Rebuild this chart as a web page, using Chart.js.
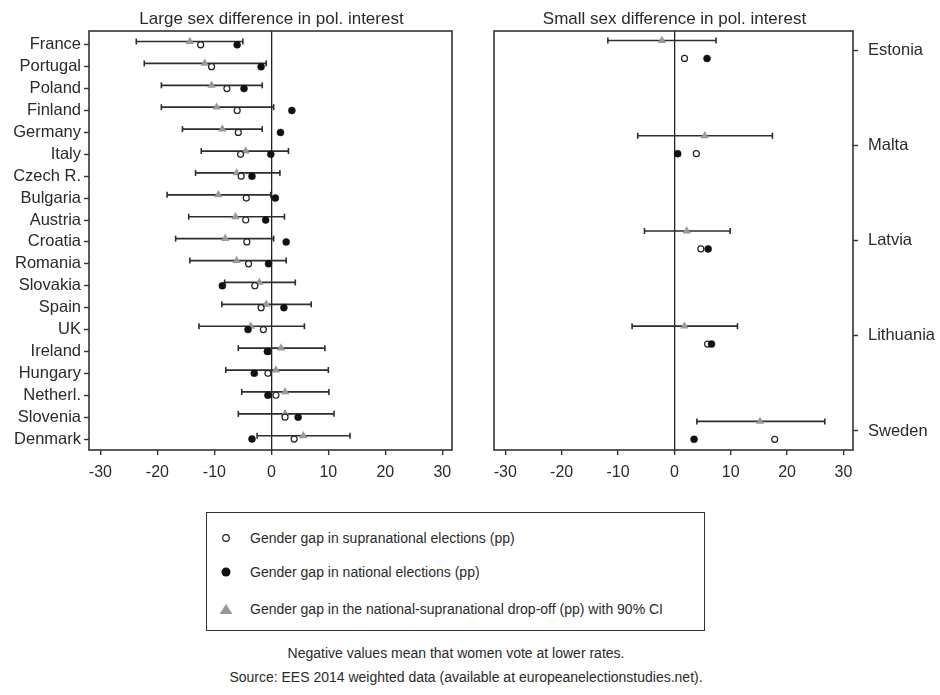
<!DOCTYPE html>
<html>
<head>
<meta charset="utf-8">
<script src="https://cdn.jsdelivr.net/npm/chart.js@4.4.0/dist/chart.umd.min.js"></script>
<style>
  body { margin: 0; background: #fff; }
  #wrap { position: relative; width: 940px; height: 695px; font-family: "Liberation Sans", Arial, sans-serif; color: #2a2a2a; }
  .panel { position: absolute; top: 0; width: 470px; height: 490px; }
  #legend { position: absolute; left: 206px; top: 512px; width: 497px; height: 117px; border: 1.5px solid #333; }
  .item { position: absolute; left: 0; font-size: 14px; line-height: 16px; }
  .item svg { position: absolute; left: 12px; top: 1px; }
  .item span { position: absolute; left: 43px; top: 0; white-space: nowrap; }
  .note { position: absolute; font-size: 14px; white-space: nowrap; transform: translateX(-50%); }
</style>
</head>
<body>
<div id="wrap">
  <div class="panel" style="left:0"><canvas id="leftChart" width="470" height="490"></canvas></div>
  <div class="panel" style="left:470px"><canvas id="rightChart" width="470" height="490"></canvas></div>
  <div id="legend">
    <div class="item" style="top:17px"><svg width="14" height="14"><circle cx="7" cy="7" r="3.3" fill="#fff" stroke="#222" stroke-width="1.2"/></svg><span>Gender gap in supranational elections (pp)</span></div>
    <div class="item" style="top:51px"><svg width="14" height="14"><circle cx="7" cy="7" r="4.5" fill="#111"/></svg><span>Gender gap in national elections (pp)</span></div>
    <div class="item" style="top:88px"><svg width="14" height="14"><polygon points="0.5,12 13.5,12 7,2" fill="#999"/></svg><span>Gender gap in the national-supranational drop-off (pp) with 90% CI</span></div>
  </div>
  <div class="note" style="left:456px; top:645px">Negative values mean that women vote at lower rates.</div>
  <div class="note" style="left:466px; top:669px">Source: EES 2014 weighted data (available at europeanelectionstudies.net).</div>
</div>
<script>
// left panel: large sex difference in political interest
var leftCountries = ['France', 'Portugal', 'Poland', 'Finland', 'Germany', 'Italy', 'Czech R.', 'Bulgaria', 'Austria', 'Croatia',
  'Romania', 'Slovakia', 'Spain', 'UK', 'Ireland', 'Hungary', 'Netherl.', 'Slovenia', 'Denmark'];
var leftSupra    = [-12.4, -10.5, -7.8, -6.0, -5.8, -5.4, -5.3, -4.4, -4.5, -4.3, -4.0, -2.9, -1.8, -1.4, -0.5, -0.6, 0.8, 2.4, 4.0];
var leftNational = [-6.0, -1.8, -4.8, 3.6, 1.6, -0.1, -3.4, 0.7, -1.0, 2.6, -0.5, -8.6, 2.2, -4.1, -0.7, -3.0, -0.6, 4.7, -3.4];
var leftDrop     = [-14.3, -11.7, -10.5, -9.6, -8.6, -4.5, -6.1, -9.3, -6.3, -8.1, -6.1, -2.1, -0.9, -3.6, 1.7, 0.8, 2.4, 2.4, 5.6];
var leftLow      = [-23.7, -22.3, -19.3, -19.3, -15.6, -12.3, -13.3, -18.3, -14.5, -16.8, -14.3, -8.2, -8.7, -12.7, -5.8, -8.0, -5.2, -5.8, -2.5];
var leftHigh     = [-5.0, -0.9, -1.6, 0.4, -1.6, 3.0, 1.5, -0.1, 2.3, 0.4, 2.6, 4.2, 7.0, 5.8, 9.4, 10.0, 10.1, 11.0, 13.8];

// right panel: small sex difference in political interest
var rightCountries = ['Estonia', 'Malta', 'Latvia', 'Lithuania', 'Sweden'];
var rightSupra     = [1.8, 3.9, 4.7, 5.9, 17.8];
var rightNational  = [5.8, 0.6, 6.0, 6.6, 3.5];
var rightDrop      = [-2.2, 5.4, 2.2, 1.8, 15.2];
var rightLow       = [-11.8, -6.5, -5.3, -7.5, 4.0];
var rightHigh      = [7.4, 17.4, 9.9, 11.2, 26.7];

var xTicks = [-30, -20, -10, 0, 10, 20, 30];

var frameAndTitle = {
  id: 'frameAndTitle',
  afterDraw: function (chart) {
    var a = chart.chartArea, ctx = chart.ctx;
    ctx.save();
    ctx.strokeStyle = '#333';
    ctx.lineWidth = 1.6;
    ctx.strokeRect(a.left, a.top, a.right - a.left, a.bottom - a.top);
    ctx.fillStyle = '#2a2a2a';
    ctx.font = '17px "Liberation Sans", Arial, sans-serif';
    ctx.textAlign = 'center';
    ctx.textBaseline = 'middle';
    ctx.fillText(chart.options.plugins.panelTitle.text, (a.left + a.right) / 2 + 1, 19);
    ctx.restore();
  }
};

function pts(xs, off) {
  return xs.map(function (v, i) { return {x: v, y: i + 1 + off}; });
}

function ciPts(lo, hi, off) {
  var out = [];
  for (var i = 0; i < lo.length; i++) {
    out.push({x: lo[i], y: i + 1 + off});
    out.push({x: hi[i], y: i + 1 + off});
    out.push({x: hi[i], y: null});
  }
  return out;
}

function makeChart(id, opt) {
  var n = opt.countries.length;
  return new Chart(document.getElementById(id), {
    type: 'scatter',
    data: {
      datasets: [
        {
          label: 'CI', data: ciPts(opt.lo, opt.hi, opt.ciOff), showLine: true, spanGaps: false,
          borderColor: '#2e2e2e', borderWidth: 1.7,
          pointStyle: 'line', rotation: 90, pointRadius: 3, pointBorderWidth: 1.6, pointBorderColor: '#2e2e2e',
          order: 4
        },
        {
          label: 'drop', data: pts(opt.drop, opt.ciOff),
          pointStyle: 'triangle', pointRadius: 4.8, backgroundColor: '#999', borderColor: '#999', pointBorderWidth: 0,
          order: 3
        },
        {
          label: 'supra', data: pts(opt.supra, opt.mOff),
          pointStyle: 'circle', pointRadius: 3, backgroundColor: '#fff', borderColor: '#222', pointBorderWidth: 1.2,
          order: 2
        },
        {
          label: 'national', data: pts(opt.national, opt.mOff),
          pointStyle: 'circle', pointRadius: 3.5, backgroundColor: '#111', borderColor: '#111', pointBorderWidth: 0.5,
          order: 1
        }
      ]
    },
    options: {
      responsive: false,
      animation: false,
      events: [],
      layout: {padding: opt.padding},
      plugins: {
        legend: {display: false},
        tooltip: {enabled: false},
        panelTitle: {text: opt.title}
      },
      scales: {
        x: {
          type: 'linear', min: -32, max: 31.7,
          afterBuildTicks: function (s) { s.ticks = xTicks.map(function (v) { return {value: v}; }); },
          afterFit: function (s) { s.height = 40; },
          border: {display: false},
          grid: {
            drawOnChartArea: true, tickLength: 5, tickWidth: 1.4, tickColor: '#333',
            color: function (c) { return c.tick && c.tick.value === 0 ? '#222' : 'rgba(0,0,0,0)'; },
            lineWidth: 1.3
          },
          ticks: {color: '#2a2a2a', padding: 8, font: {size: 16, family: '"Liberation Sans", Arial, sans-serif'}, maxRotation: 0}
        },
        y: {
          type: 'linear', reverse: true, position: opt.yPos, min: opt.yMin, max: opt.yMax,
          afterBuildTicks: function (s) {
            var t = [];
            for (var i = 1; i <= n; i++) t.push({value: i});
            s.ticks = t;
          },
          afterFit: function (s) { s.width = opt.yWidth; },
          border: {display: false},
          grid: {drawOnChartArea: false, tickLength: 5, tickWidth: 1.4, tickColor: '#333'},
          ticks: {
            color: '#2a2a2a', padding: opt.yPad, font: {size: 16.5, family: '"Liberation Sans", Arial, sans-serif'},
            callback: function (v) { return opt.countries[v - 1]; }
          }
        }
      }
    },
    plugins: [frameAndTitle]
  });
}

makeChart('leftChart', {
  title: 'Large sex difference in pol. interest',
  countries: leftCountries, supra: leftSupra, national: leftNational, drop: leftDrop, lo: leftLow, hi: leftHigh,
  ciOff: -0.15, mOff: 0,
  yMin: 0.37, yMax: 19.5, yPos: 'left', yWidth: 89, yPad: 3,
  padding: {left: 0, right: 18, top: 31, bottom: 0}
});

makeChart('rightChart', {
  title: 'Small sex difference in pol. interest',
  countries: rightCountries, supra: rightSupra, national: rightNational, drop: rightDrop, lo: rightLow, hi: rightHigh,
  ciOff: -0.1, mOff: 0.088,
  yMin: 0.8, yMax: 5.2, yPos: 'right', yWidth: 87, yPad: 10,
  padding: {left: 24, right: 0, top: 31, bottom: 0}
});
</script>
</body>
</html>
